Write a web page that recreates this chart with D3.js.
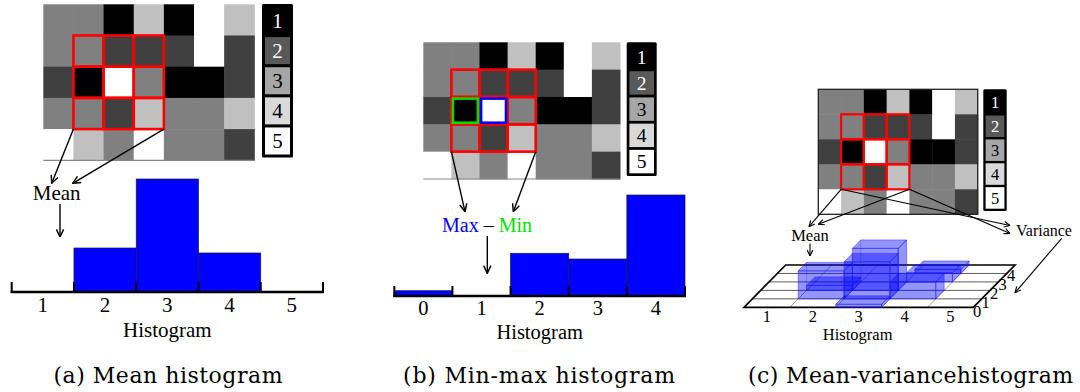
<!DOCTYPE html>
<html><head><meta charset="utf-8">
<script src="https://cdn.jsdelivr.net/npm/d3@7"></script>
<style>body{margin:0;background:#fff}svg{display:block}</style>
</head><body>
<svg id="c" width="1080" height="392"></svg>
<script>
// ---------------- data ----------------
const gridLevels = [
  [3,3,1,4,1,5,4],
  [3,3,2,2,2,5,2],
  [2,1,5,3,1,1,2],
  [3,3,2,4,3,3,4],
  [5,4,3,5,3,3,2]
];
const levelLabels = ["1","2","3","4","5"];
const meanBins = ["1","2","3","4","5"];
const meanCounts = [0, 4.4, 11.3, 3.9, 0];
const minmaxBins = ["0","1","2","3","4"];
const minmaxCounts = [0.53, 0, 4.27, 3.7, 10.1];
const mvMeanBins = ["1","2","3","4","5"];
const mvVarBins = ["0","1","2","3","4"];
// mean-variance boxes (mean bin, variance bin, count)
const mvMean  = ["2","2","3","3","3","4","4","4"];
const mvVar   = ["1","2","0","1","2","1","3","4"];
const mvCount = [2.8, 0.5, 0.3, 3.7, 4.2, 1.7, 0.9, 0.4];
const captions = ["(a) Mean histogram", "(b) Min-max histogram", "(c) Mean-variancehistogram"];
const axisTitle = "Histogram";

// ---------------- drawing ----------------
const svg = d3.select("#c");
const SERIF = "'Liberation Serif', 'Times New Roman', serif";
const CAP = "'DejaVu Serif', serif";
const gridColor = d3.scaleOrdinal().domain([1,2,3,4,5]).range(["#000000","#404040","#808080","#c0c0c0","#ffffff"]);
const legendColor = d3.scaleOrdinal().domain(levelLabels).range(["#000000","#595959","#a6a6a6","#d9d9d9","#ffffff"]);
const legendText = d3.scaleOrdinal().domain(levelLabels).range(["#fff","#fff","#000","#000","#000"]);

const defs = svg.append("defs");
function marker(id, size){
  defs.append("marker").attr("id", id).attr("viewBox","0 0 10 10")
    .attr("refX", 9.5).attr("refY", 5).attr("markerWidth", size).attr("markerHeight", size)
    .attr("markerUnits","userSpaceOnUse").attr("orient","auto")
    .append("path").attr("d","M1,1 L9.5,5 L1,9").attr("fill","none")
    .attr("stroke","#000").attr("stroke-width",1.6);
}
marker("arrA", 9); marker("arrC", 7);

function arrow(g, x1,y1,x2,y2, m, w){
  g.append("line").attr("x1",x1).attr("y1",y1).attr("x2",x2).attr("y2",y2)
    .attr("stroke","#000").attr("stroke-width",w||1.4).attr("marker-end","url(#"+m+")");
}

function drawGrid(g, xr, yr, o){
  const nR = gridLevels.length, nC = gridLevels[0].length;
  const x = d3.scaleLinear().domain([0,nC]).range(xr);
  const y = d3.scaleLinear().domain([0,nR]).range(yr);
  const cells = [];
  gridLevels.forEach((row,r)=>row.forEach((v,c)=>cells.push({r,c,v})));
  g.append("g").selectAll("rect").data(cells).join("rect")
    .attr("x",d=>x(d.c)).attr("y",d=>y(d.r))
    .attr("width",d=>x(d.c+1)-x(d.c)+0.5).attr("height",d=>y(d.r+1)-y(d.r)+0.5)
    .attr("fill",d=>gridColor(d.v));
  if (o.border){
    g.append("rect").attr("x",xr[0]).attr("y",yr[0]).attr("width",xr[1]-xr[0]).attr("height",yr[1]-yr[0])
      .attr("fill","none").attr("stroke","#222").attr("stroke-width",1.3);
  } else {
    g.append("line").attr("x1",xr[0]).attr("x2",xr[1]).attr("y1",yr[1]).attr("y2",yr[1])
      .attr("stroke","#888").attr("stroke-width",1.2);
  }
  // 3x3 window
  const win = [];
  for (let r=1;r<=3;r++) for (let c=1;c<=3;c++) win.push({r,c});
  g.append("g").selectAll("rect").data(win).join("rect")
    .attr("x",d=>x(d.c)).attr("y",d=>y(d.r))
    .attr("width",d=>x(d.c+1)-x(d.c)).attr("height",d=>y(d.r+1)-y(d.r))
    .attr("fill","none").attr("stroke","#ff0000").attr("stroke-width",o.rw);
  if (o.minmax){
    const ins = 1.6;
    [[1,"#00e000"],[2,"#0000ff"]].forEach(([c,col])=>{
      g.append("rect").attr("x",x(c)+ins).attr("y",y(2)+ins)
        .attr("width",x(c+1)-x(c)-2*ins).attr("height",y(3)-y(2)-2*ins)
        .attr("fill","none").attr("stroke",col).attr("stroke-width",2.6);
    });
  }
  return {x,y};
}

function drawLegend(g, xr, yr, b, fs){
  g.append("rect").attr("x",xr[0]).attr("y",yr[0]).attr("width",xr[1]-xr[0]).attr("height",yr[1]-yr[0])
    .attr("rx",1.5).attr("fill","#000");
  const band = d3.scaleBand().domain(levelLabels).range([yr[0]+b, yr[1]-b]).paddingInner(b/((yr[1]-yr[0]-2*b)/5));
  const it = g.append("g").selectAll("g").data(levelLabels).join("g");
  it.append("rect").attr("x",xr[0]+b).attr("y",d=>band(d)).attr("width",xr[1]-xr[0]-2*b)
    .attr("height",band.bandwidth()).attr("fill",d=>legendColor(d));
  it.append("text").attr("x",(xr[0]+xr[1])/2).attr("y",d=>band(d)+band.bandwidth()/2)
    .attr("dy","0.35em").attr("text-anchor","middle").attr("fill",d=>legendText(d))
    .style("font-family",SERIF).style("font-size",fs+"px").text(d=>d);
}

function drawHist(g, bins, counts, xr, base, o){
  const x = d3.scaleBand().domain(bins).range(xr);
  const h = d3.scaleLinear().domain([0,1]).range([0,10]);
  const data = bins.map((b,i)=>({b, v:counts[i]}));
  g.append("g").selectAll("rect").data(data.filter(d=>d.v>0)).join("rect")
    .attr("x",d=>x(d.b)).attr("y",d=>base-h(d.v)).attr("width",x.bandwidth()).attr("height",d=>h(d.v))
    .attr("fill","#0000ff").attr("stroke","#1a1a40").attr("stroke-width",0.7);
  g.append("line").attr("x1",xr[0]-1).attr("x2",xr[1]+1).attr("y1",base).attr("y2",base)
    .attr("stroke","#000").attr("stroke-width",2.6);
  const edges = d3.range(bins.length+1).map(i=>xr[0]+i*x.step());
  g.append("g").selectAll("line").data(edges).join("line")
    .attr("x1",d=>d).attr("x2",d=>d).attr("y1",base+1).attr("y2",base-10)
    .attr("stroke","#000").attr("stroke-width",2);
  g.append("g").selectAll("text").data(bins).join("text")
    .attr("x",d=>x(d)+x.bandwidth()/2).attr("y",o.lb).attr("text-anchor","middle")
    .style("font-family",SERIF).style("font-size",o.fs+"px").text(d=>d);
  g.append("text").attr("x",(xr[0]+xr[1])/2).attr("y",o.tb).attr("text-anchor","middle")
    .style("font-family",SERIF).style("font-size",o.fs+"px").text(axisTitle);
}

function caption(text, cx, len){
  svg.append("text").attr("x",cx).attr("y",382.5).attr("text-anchor","middle")
    .attr("textLength",len).attr("lengthAdjust","spacing")
    .style("font-family",CAP).style("font-size","22px").text(text);
}

// ---------- panel (a) ----------
const gA = svg.append("g");
const GA = drawGrid(gA, [43.3,254.3], [4.3,160.3], {rw:2.6});
drawLegend(gA, [262,293], [4,157.5], 3, 21);
arrow(gA, GA.x(1), GA.y(4), 51.7, 183.3, "arrA");
arrow(gA, GA.x(4), GA.y(4), 72.7, 183.3, "arrA");
gA.append("text").attr("x",56.7).attr("y",200).attr("text-anchor","middle")
  .style("font-family",SERIF).style("font-size","21px").text("Mean");
arrow(gA, 60, 204, 60, 237, "arrA");
drawHist(gA, meanBins, meanCounts, [11.7,323], 292, {lb:311.7, tb:336.7, fs:21});
caption(captions[0], 168, 229);

// ---------- panel (b) ----------
const gB = svg.append("g");
const GB = drawGrid(gB, [423.3,620], [42.3,179], {rw:2.6, minmax:true});
drawLegend(gB, [626.7,656.7], [42.3,176], 2.7, 19.5);
arrow(gB, GB.x(1), GB.y(4), 465, 211.7, "arrA");
arrow(gB, GB.x(4), GB.y(4), 513.3, 211.7, "arrA");
const mm = gB.append("text").attr("x",487).attr("y",232).attr("text-anchor","middle")
  .style("font-family",SERIF).style("font-size","20px");
mm.append("tspan").attr("fill","#0000ff").text("Max");
mm.append("tspan").attr("fill","#000").text(" \u2013 ");
mm.append("tspan").attr("fill","#00e000").text("Min");
arrow(gB, 487.3, 236, 487.3, 273.3, "arrA");
drawHist(gB, minmaxBins, minmaxCounts, [394.3,685], 296, {lb:315, tb:338.5, fs:20.5});
caption(captions[1], 539, 272);

// ---------- panel (c) ----------
const gC = svg.append("g");
const GC = drawGrid(gC, [818.3,977.7], [89.3,214.3], {rw:2.2, border:true});
drawLegend(gC, [983.3,1006.7], [89.3,211], 2.3, 16.5);
arrow(gC, GC.x(1), GC.y(4), 809, 226.7, "arrC", 1.1);
arrow(gC, GC.x(4), GC.y(4), 818.3, 224.3, "arrC", 1.1);
arrow(gC, GC.x(1), GC.y(4), 1010, 225.5, "arrC", 1.1);
arrow(gC, GC.x(4), GC.y(4), 1010, 233.5, "arrC", 1.1);
gC.append("text").attr("x",810).attr("y",240.5).attr("text-anchor","middle")
  .style("font-family",SERIF).style("font-size","16.5px").text("Mean");
arrow(gC, 810, 243.5, 810, 256, "arrC", 1.1);
gC.append("text").attr("x",1016).attr("y",236).attr("text-anchor","start")
  .style("font-family",SERIF).style("font-size","16px").text("Variance");
arrow(gC, 1061.7, 238.3, 1015, 292.7, "arrC", 1.1);

// oblique 3D plane
const um = d3.scaleLinear().domain([0, mvMeanBins.length]).range([744, 973.3]);
const vx = d3.scaleLinear().domain([0, mvVarBins.length]).range([0, 41.7]);
const vy = d3.scaleLinear().domain([0, mvVarBins.length]).range([0, -42.3]);
const hc = d3.scaleLinear().domain([0,1]).range([0,10]);
const baseY = 307.3;
const P = (m,v,h)=>[um(m)+vx(v), baseY+vy(v)-h];
const line = d3.line();
const nM = mvMeanBins.length, nV = mvVarBins.length;
// column lines
gC.append("g").selectAll("path").data(d3.range(1,nM)).join("path")
  .attr("d",m=>line([P(m,0,0),P(m,nV,0)])).attr("stroke","#777").attr("stroke-width",0.7).attr("fill","none");
// row lines
gC.append("g").selectAll("path").data(d3.range(1,nV)).join("path")
  .attr("d",v=>line([P(0,v,0),P(nM,v,0)])).attr("stroke","#333").attr("stroke-width",0.8).attr("fill","none");
gC.append("path").attr("d",line([P(0,0,0),P(nM,0,0),P(nM,nV,0),P(0,nV,0)])+"Z")
  .attr("fill","none").attr("stroke","#000").attr("stroke-width",1.7).attr("stroke-linejoin","miter");

// boxes
const boxes = mvMean.map((m,i)=>({m:mvMeanBins.indexOf(m), v:mvVarBins.indexOf(mvVar[i]), h:hc(mvCount[i])}))
  .sort((a,b)=> b.v-a.v || a.m-b.m);
const bg = gC.append("g").selectAll("g").data(boxes).join("g");
const faces = d=>{
  const {m,v,h}=d;
  return [
    [P(m,v,0),P(m+1,v,0),P(m+1,v,h),P(m,v,h)],         // front
    [P(m,v,h),P(m+1,v,h),P(m+1,v+1,h),P(m,v+1,h)],     // top
    [P(m+1,v,0),P(m+1,v+1,0),P(m+1,v+1,h),P(m+1,v,h)]  // right
  ];
};
bg.selectAll("path").data(d=>faces(d)).join("path")
  .attr("d",f=>line(f)+"Z").attr("fill","#0000ff").attr("fill-opacity",0.42)
  .attr("stroke","#2020ff").attr("stroke-opacity",0.6).attr("stroke-width",0.8);
// hidden edges (visible through transparency)
bg.append("path").attr("d",d=>line([P(d.m,d.v+1,0),P(d.m,d.v+1,d.h)])+line([P(d.m,d.v+1,0),P(d.m+1,d.v+1,0)]))
  .attr("fill","none").attr("stroke","#2020ff").attr("stroke-opacity",0.35).attr("stroke-width",0.7);

// labels
gC.append("g").selectAll("text").data(mvMeanBins).join("text")
  .attr("x",(d,i)=>um(i+0.5)).attr("y",321.7).attr("text-anchor","middle")
  .style("font-family",SERIF).style("font-size","16.5px").text(d=>d);
gC.append("g").selectAll("text").data(mvVarBins).join("text")
  .attr("x",(d,i)=>973+i*8.5).attr("y",(d,i)=>316.5-i*9).attr("text-anchor","start")
  .style("font-family",SERIF).style("font-size","16.5px").text(d=>d);
gC.append("text").attr("x",857.7).attr("y",340).attr("text-anchor","middle")
  .style("font-family",SERIF).style("font-size","16.5px").text(axisTitle);
caption(captions[2], 910.5, 325);
</script>
</body></html>
